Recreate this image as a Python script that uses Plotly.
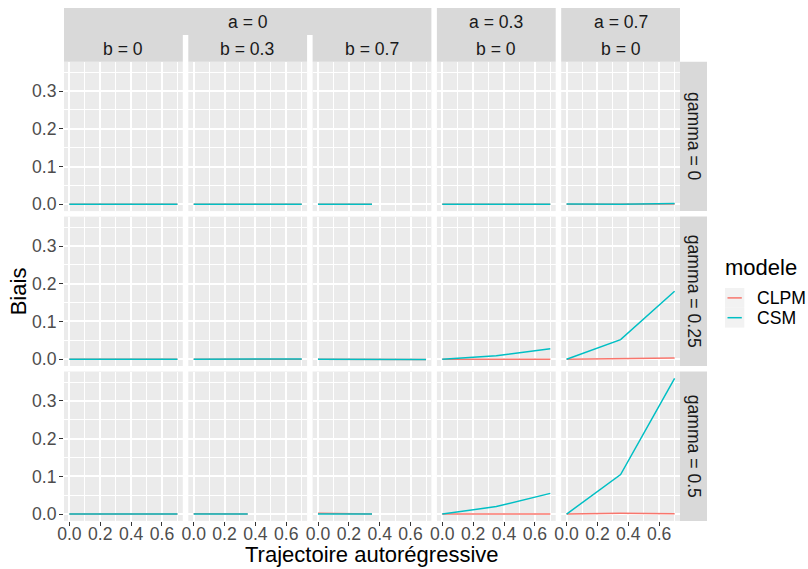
import plotly.graph_objects as go

# Simulation results: bias of each model by autoregressive trajectory
x_traj = [0.0, 0.35, 0.7]
gamma_levels = ["0", "0.25", "0.5"]
a_levels = ["0", "0", "0", "0.3", "0.7"]
b_levels = ["0", "0.3", "0.7", "0", "0"]
models = ["CLPM", "CSM"]
model_colors = ["#F8766D", "#00BFC4"]

# one list per facet column (a, b); shorter lists = missing conditions
clpm_gamma0 = [[0.0, 0.0, 0.0], [0.0, 0.0, 0.0], [0.0, 0.0], [0.0, 0.0, 0.0], [0.0, 0.0, 0.001]]
csm_gamma0 = [[0.0, 0.0, 0.0], [0.0, 0.0, 0.0], [0.0, 0.0], [0.0, 0.0, 0.0], [0.001, 0.0, 0.002]]
clpm_gamma025 = [[0.0, 0.0, 0.0], [0.0, 0.0005, 0.0], [0.0, 0.0, -0.0005], [0.0, 0.0, 0.0], [0.0, 0.001, 0.003]]
csm_gamma025 = [[0.0, 0.0, 0.0], [0.0, 0.001, 0.0005], [0.0, -0.0005, -0.001], [0.0, 0.009, 0.028], [0.0, 0.052, 0.180]]
clpm_gamma05 = [[0.0, 0.0, 0.0], [0.001, 0.0005], [0.002, 0.0], [0.0, 0.0, 0.0], [0.0, 0.002, 0.001]]
csm_gamma05 = [[0.0, 0.0, 0.0], [0.0, 0.0], [0.0, 0.0], [0.0, 0.02, 0.055], [0.0, 0.105, 0.36]]

clpm_rows = [clpm_gamma0, clpm_gamma025, clpm_gamma05]
csm_rows = [csm_gamma0, csm_gamma025, csm_gamma05]

x_ticks = [0.0, 0.2, 0.4, 0.6]
y_ticks = [0.0, 0.1, 0.2, 0.3]

W, H = 808, 569
FONT = "Liberation Sans, Arial, sans-serif"
PANEL_BG = "#EBEBEB"
STRIP_BG = "#D9D9D9"

# panel geometry in pixels
col_left = [64.0, 188.3, 312.6, 436.9, 561.2]
panel_w = 118.8
row_top = [61.7, 216.6, 371.5]
panel_h = 149.4
strip_w = 27.0


def px(x):
    return x / W


def py(y):
    return 1 - y / H


fig = go.Figure()
layout = {}
n = 0
for r in range(3):
    for c in range(5):
        n += 1
        xa = "x" if n == 1 else f"x{n}"
        ya = "y" if n == 1 else f"y{n}"
        for m, rows in enumerate([clpm_rows, csm_rows]):
            vals = rows[r][c]
            fig.add_trace(go.Scatter(
                x=x_traj[:len(vals)], y=vals, mode="lines",
                line=dict(color=model_colors[m], width=1.5),
                name=models[m], showlegend=False, xaxis=xa, yaxis=ya,
                hoverinfo="skip"))
        bottom = r == 2
        left = c == 0
        layout[f"xaxis{n}" if n > 1 else "xaxis"] = dict(
            domain=[px(col_left[c]), px(col_left[c] + panel_w)],
            anchor=ya, range=[-0.035, 0.735], automargin=False,
            tickvals=x_ticks, ticktext=[f"{v:.1f}" for v in x_ticks],
            showticklabels=bottom, ticks="outside" if bottom else "",
            ticklen=4, tickwidth=1, tickcolor="#333333", ticklabelstandoff=-7,
            tickfont=dict(family=FONT, size=17.6, color="#4D4D4D"),
            showgrid=True, gridcolor="white", gridwidth=1.5,
            minor=dict(tickvals=[0.1, 0.3, 0.5, 0.7], showgrid=True,
                       gridcolor="white", gridwidth=0.75, ticks=""),
            zeroline=False, showline=False, fixedrange=True)
        layout[f"yaxis{n}" if n > 1 else "yaxis"] = dict(
            domain=[py(row_top[r] + panel_h), py(row_top[r])],
            anchor=xa, range=[-0.018, 0.378], automargin=False,
            tickvals=y_ticks, ticktext=[f"{v:.1f}" for v in y_ticks],
            showticklabels=left, ticks="outside" if left else "",
            ticklen=4, tickwidth=1, tickcolor="#333333", ticklabelstandoff=-1,
            tickfont=dict(family=FONT, size=17.6, color="#4D4D4D"),
            showgrid=True, gridcolor="white", gridwidth=1.5,
            minor=dict(tickvals=[0.05, 0.15, 0.25, 0.35], showgrid=True,
                       gridcolor="white", gridwidth=0.75, ticks=""),
            zeroline=False, showline=False, fixedrange=True)

shapes = []
annotations = []
strip_font = dict(family=FONT, size=17.6, color="#1A1A1A")


def rect(x0, y0, x1, y1, color):
    shapes.append(dict(type="rect", xref="paper", yref="paper",
                       x0=px(x0), x1=px(x1), y0=py(y1), y1=py(y0),
                       fillcolor=color, line=dict(width=0), layer="below"))


def label(text, x, y, font, angle=0, xanchor="center"):
    annotations.append(dict(text=text, x=px(x), y=py(y), xref="paper", yref="paper",
                            showarrow=False, font=font, textangle=angle,
                            xanchor=xanchor, yanchor="middle"))


strip_top, strip_mid = 8.0, 35.0
# nested strip: a = 0 spans the first three columns
rect(col_left[0], strip_top, col_left[2] + panel_w, strip_mid, STRIP_BG)
label(f"a = {a_levels[0]}", (col_left[0] + col_left[2] + panel_w) / 2, 21.5, strip_font)
for c in range(3):
    rect(col_left[c], strip_mid, col_left[c] + panel_w, row_top[0], STRIP_BG)
    label(f"b = {b_levels[c]}", col_left[c] + panel_w / 2, 48.5, strip_font)
for c in range(3, 5):
    rect(col_left[c], strip_top, col_left[c] + panel_w, row_top[0], STRIP_BG)
    label(f"a = {a_levels[c]}", col_left[c] + panel_w / 2, 21.5, strip_font)
    label(f"b = {b_levels[c]}", col_left[c] + panel_w / 2, 48.5, strip_font)

# gamma strips on the right
x_right = col_left[4] + panel_w
for r in range(3):
    rect(x_right, row_top[r], x_right + strip_w, row_top[r] + panel_h, STRIP_BG)
    label(f"gamma = {gamma_levels[r]}", x_right + strip_w / 2, row_top[r] + panel_h / 2,
          strip_font, angle=90)

# axis titles
title_font = dict(family=FONT, size=22, color="black")
label("Trajectoire autorégressive", (col_left[0] + x_right) / 2, 554, title_font)
label("Biais", 18, (row_top[0] + row_top[2] + panel_h) / 2, title_font, angle=-90)

# legend
label("modele", 723, 268, title_font, xanchor="left")
key_x0, key_x1 = 725.0, 744.3
key_tops = [288.0, 307.8]
for m in range(2):
    rect(key_x0, key_tops[m], key_x1, key_tops[m] + 19.8, "#F2F2F2")
    yc = key_tops[m] + 9.9
    shapes.append(dict(type="line", xref="paper", yref="paper",
                       x0=px(key_x0 + 2.5), x1=px(key_x1 - 2.5), y0=py(yc), y1=py(yc),
                       line=dict(color=model_colors[m], width=1.5)))
    label(models[m], 755, yc, dict(family=FONT, size=17.6, color="black"), xanchor="left")

fig.update_layout(
    width=W, height=H, margin=dict(l=0, r=0, t=0, b=0),
    paper_bgcolor="white", plot_bgcolor=PANEL_BG,
    showlegend=False, shapes=shapes, annotations=annotations,
    **layout)

fig.write_html("out.html")
